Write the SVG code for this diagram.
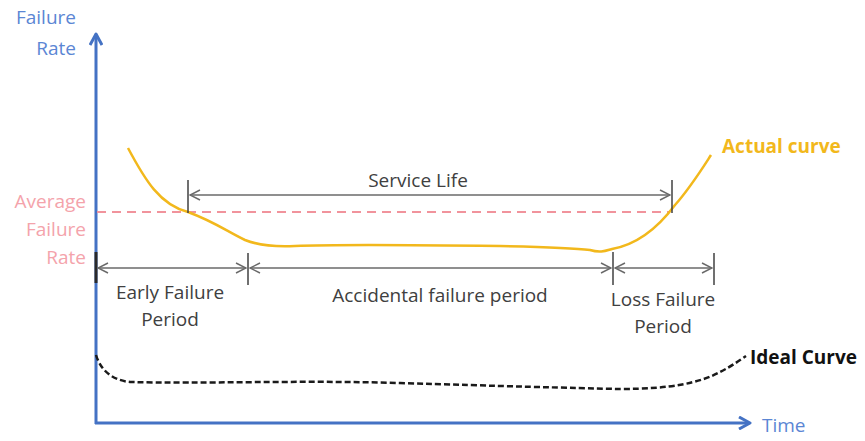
<svg xmlns="http://www.w3.org/2000/svg" width="865" height="441" viewBox="0 0 865 441">
<style>
text{font-family:"Open Sans",Lato,"Liberation Sans",sans-serif;font-size:19px}
.blue{fill:#5b86d4}
.pink{fill:#f4a3ab}
.dark{fill:#404040}
.tick{stroke:#404040;stroke-width:1.5}
.arr{stroke:#6a6a6a;stroke-width:1.5;fill:none;marker-start:url(#open);marker-end:url(#open)}
</style>
<defs>
<marker id="open" viewBox="0 0 12 12" refX="11" refY="6" markerWidth="12" markerHeight="12" markerUnits="userSpaceOnUse" orient="auto-start-reverse">
<path d="M1,1 L11,6 L1,11" fill="none" stroke="#6a6a6a" stroke-width="1.5"/>
</marker>
<marker id="axis" viewBox="0 0 14 14" refX="10" refY="7" markerWidth="14" markerHeight="14" markerUnits="userSpaceOnUse" orient="auto">
<path d="M1,1 L12,7 L1,13" fill="none" stroke="#4472c4" stroke-width="3" stroke-linejoin="round"/>
</marker>
</defs>
<rect width="865" height="441" fill="#fff"/>

<g id="axes">
<line x1="96" y1="424" x2="96" y2="36" stroke="#4472c4" stroke-width="3" marker-end="url(#axis)"/>
<line x1="95" y1="423" x2="748" y2="423" stroke="#4472c4" stroke-width="3" marker-end="url(#axis)"/>
<text class="blue" x="76" y="24" text-anchor="end">Failure</text>
<text class="blue" x="76" y="55" text-anchor="end">Rate</text>
<text class="blue" x="762" y="432">Time</text>
</g>

<g id="average">
<line x1="97" y1="212" x2="670" y2="212" stroke="#f1939c" stroke-width="1.8" stroke-dasharray="9,6"/>
<text class="pink" x="86" y="208" text-anchor="end">Average</text>
<text class="pink" x="86" y="236" text-anchor="end">Failure</text>
<text class="pink" x="86" y="264" text-anchor="end">Rate</text>
</g>

<g id="actual-curve">
<path d="M128,148 C145,180 160,205 188,212 C215,222 228,232 245,240 C260,246 275,247 295,246 C340,244 420,245 500,246 C550,247 575,248 590,250 C600,253 605,251 612,249 C640,244 660,225 675,205 C690,188 700,172 711,155" fill="none" stroke="#f2b81c" stroke-width="2.5"/>
<text x="722" y="153" style="font-weight:bold;fill:#f2b81c">Actual curve</text>
</g>

<g id="ideal-curve">
<path d="M96,355 C100,368 110,380 130,382 C200,384 300,380 400,383 C500,386 570,388 620,389 C670,389 700,383 720,372 C732,366 740,360 746,356" fill="none" stroke="#1a1a1a" stroke-width="2.5" stroke-dasharray="6,3"/>
<text x="750" y="364" style="font-weight:bold;fill:#111">Ideal Curve</text>
</g>

<g id="connectors">
<line class="tick" x1="188" y1="180" x2="188" y2="213"/>
<line class="tick" x1="672" y1="180" x2="672" y2="213"/>
<line class="arr" x1="190" y1="195" x2="670" y2="195"/>
<line x1="96" y1="252" x2="96" y2="283" stroke="#2a2a2a" stroke-width="3"/>
<line class="tick" x1="248" y1="253" x2="248" y2="285"/>
<line class="tick" x1="613" y1="252" x2="613" y2="285"/>
<line class="tick" x1="714" y1="253" x2="714" y2="285"/>
<line class="arr" x1="98" y1="268" x2="246" y2="268"/>
<line class="arr" x1="250" y1="268" x2="611" y2="268"/>
<line class="arr" x1="615" y1="268" x2="712" y2="268"/>
</g>

<g id="labels">
<text class="dark" x="418" y="187" text-anchor="middle">Service Life</text>
<text class="dark" x="170" y="299" text-anchor="middle">Early Failure</text>
<text class="dark" x="170" y="326" text-anchor="middle">Period</text>
<text class="dark" x="440" y="302" text-anchor="middle">Accidental failure period</text>
<text class="dark" x="663" y="306" text-anchor="middle">Loss Failure</text>
<text class="dark" x="663" y="333" text-anchor="middle">Period</text>
</g>
</svg>
